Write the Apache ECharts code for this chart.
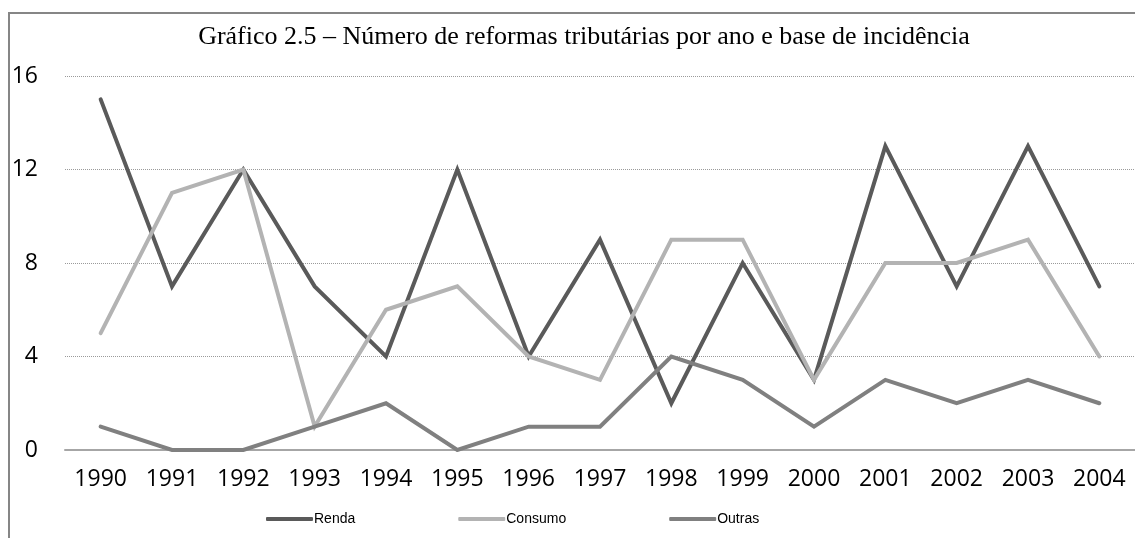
<!DOCTYPE html>
<html>
<head>
<meta charset="utf-8">
<script src="https://cdn.jsdelivr.net/npm/echarts@6/dist/echarts.min.js"></script>
<style>
    html, body { margin: 0; padding: 0; background: #fff; }
    #chart { width: 1135px; height: 538px; }
    #frame { position: absolute; left: 8px; top: 12px; width: 1140px; height: 540px;
             border: 2px solid #868686; box-sizing: border-box; pointer-events: none; }
</style>
</head>
<body>
<div id="chart"></div>
<div id="frame"></div>
<script>
// dados do gráfico
const years = ['1990', '1991', '1992', '1993', '1994', '1995', '1996', '1997',
    '1998', '1999', '2000', '2001', '2002', '2003', '2004'];
const renda = [15, 7, 12, 7, 4, 12, 4, 9, 2, 8, 3, 13, 7, 13, 7];
const consumo = [5, 11, 12, 1, 6, 7, 4, 3, 9, 9, 3, 8, 8, 9, 4];
const outras = [1, 0, 0, 1, 2, 0, 1, 1, 4, 3, 1, 3, 2, 3, 2];
const yTicks = [0, 4, 8, 12, 16];

document.addEventListener('DOMContentLoaded', function() {
    const chart = echarts.init(document.getElementById('chart'));

    function lineSeries(name, data, color) {
        return {
            name: name,
            type: 'line',
            data: data,
            symbol: 'none',
            lineStyle: { width: 4, color: color, cap: 'round', join: 'miter' },
            itemStyle: { color: color },
            animation: false
        };
    }

    chart.setOption({
        animation: false,
        title: {
            text: 'Gráfico 2.5 – Número de reformas tributárias por ano e base de incidência',
            left: 579,
            textAlign: 'center',
            top: 19,
            textStyle: {
                fontFamily: 'Liberation Serif',
                fontWeight: 'normal',
                fontSize: 26,
                color: '#000'
            }
        },
        legend: {
            bottom: 7,
            left: 261,
            itemGap: 103,
            itemWidth: 47,
            itemHeight: 4,
            icon: 'roundRect',
            textStyle: {
                fontFamily: 'Liberation Sans',
                fontSize: 14,
                color: '#000',
                padding: [0, 0, 0, -4]
            },
            data: ['Renda', 'Consumo', 'Outras']
        },
        grid: {
            left: 65,
            right: -9,
            top: 76,
            bottom: 88,
            containLabel: false
        },
        xAxis: {
            type: 'category',
            data: years,
            boundaryGap: true,
            axisLine: { lineStyle: { color: '#a6a6a6', width: 2 } },
            axisTick: { show: false },
            axisLabel: {
                fontFamily: 'Open Sans',
                fontSize: 23,
                color: '#000',
                margin: 18
            }
        },
        yAxis: {
            type: 'value',
            min: yTicks[0],
            max: yTicks[yTicks.length - 1],
            interval: 4,
            axisLine: { show: false },
            axisTick: { show: false },
            axisLabel: {
                fontFamily: 'Open Sans',
                fontSize: 23,
                color: '#000',
                margin: 27
            },
            splitLine: {
                lineStyle: { type: 'dotted', color: '#9a9a9a', width: 1 }
            }
        },
        series: [
            lineSeries('Renda', renda, '#5a5a5a'),
            lineSeries('Consumo', consumo, '#b3b3b3'),
            lineSeries('Outras', outras, '#808080')
        ]
    });
});
</script>
</body>
</html>
